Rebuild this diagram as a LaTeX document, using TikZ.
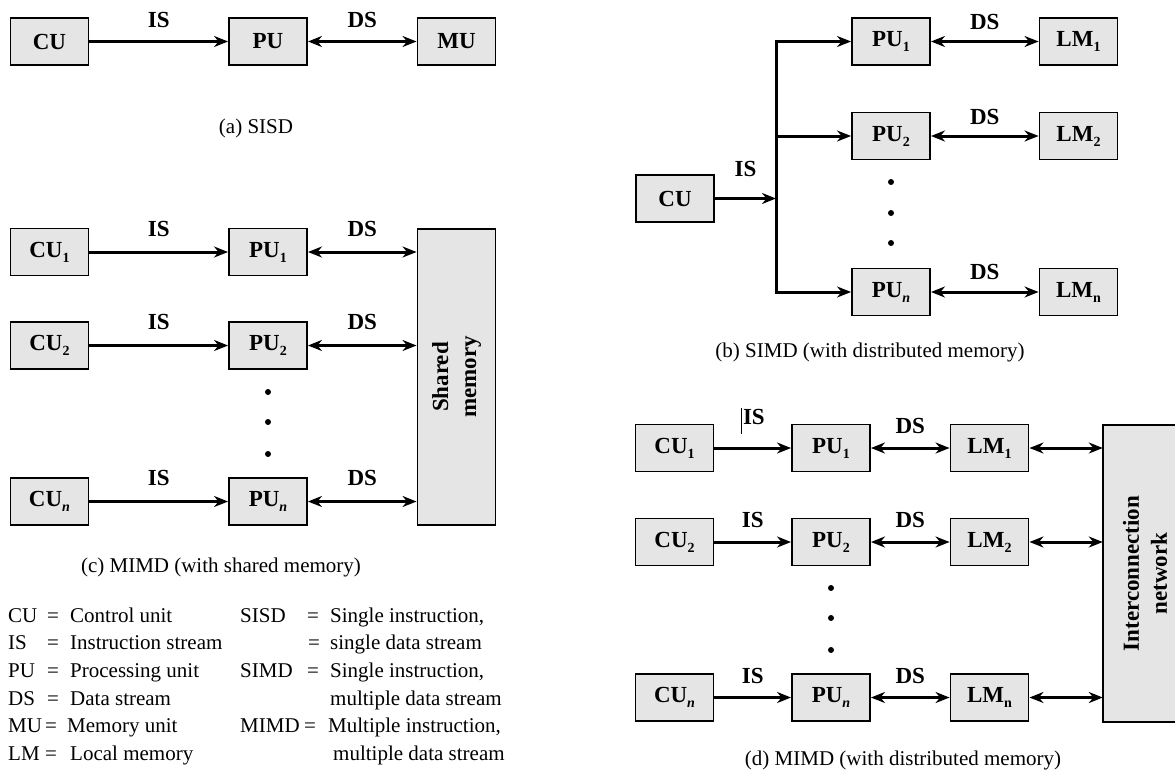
\documentclass[tikz,border=0pt]{standalone}
\usepackage{fontspec}
\setmainfont{Liberation Serif}
\usetikzlibrary{arrows.meta}
\definecolor{boxgray}{gray}{0.9}
\newcommand\sbs[1]{\raisebox{-0.22em}{\fontsize{14}{14}\selectfont #1}}
\begin{document}
\begin{tikzpicture}[x=1pt,y=-1pt,
  box/.style={draw, line width=1.9pt, fill=boxgray, minimum width=78pt, minimum height=47pt, inner sep=0pt, font=\fontsize{23}{27}\selectfont\bfseries},
  lbl/.style={font=\fontsize{23}{28}\selectfont\bfseries, inner sep=0pt},
  arr/.style={line width=3pt, -{Stealth[length=14pt,width=11pt,inset=4.5pt]}},
  darr/.style={line width=3pt, {Stealth[length=14pt,width=11pt,inset=4.5pt]}-{Stealth[length=14pt,width=11pt,inset=4.5pt]}},
  capt/.style={font=\fontsize{21}{25}\selectfont, inner sep=0pt},
  leg/.style={font=\fontsize{21}{25}\selectfont, inner sep=0pt, anchor=base west},
  dotn/.style={circle, fill, inner sep=0pt, minimum size=6pt}
]
\useasboundingbox[fill=white] (0,0) rectangle (1175,776);

% ---------- (a) SISD ----------
\node[box] (acu) at (49.5,41.5) {CU};
\node[box] (apu) at (268,41.5) {PU};
\node[box] (amu) at (456.5,41.5) {MU};
\draw[arr] (acu) -- node[lbl, above=12pt] (ais) {IS} (apu);
\draw[darr] (apu) -- node[lbl, above=12pt] (ads) {DS} (amu);
\node[capt] (capa) at (256,128) {(a) SISD};

% ---------- (c) MIMD shared memory ----------
\node[box] (ccu1) at (49.5,252) {CU\sbs{1}};
\node[box] (ccu2) at (49.5,345.5) {CU\sbs{2}};
\node[box] (ccun) at (49.5,501.5) {CU\sbs{\textit{n}}};
\node[box] (cpu1) at (268,252) {PU\sbs{1}};
\node[box] (cpu2) at (268,345.5) {PU\sbs{2}};
\node[box] (cpun) at (268,501.5) {PU\sbs{\textit{n}}};
\node[box, minimum height=296pt] (sm) at (456.5,377) {};
\node[lbl, rotate=90, align=center] (smt) at (sm.center) {Shared\\memory};
\draw[arr] (ccu1) -- node[lbl, above=14pt] (cis1) {IS} (cpu1);
\draw[arr] (ccu2) -- node[lbl, above=14pt] (cis2) {IS} (cpu2);
\draw[arr] (ccun) -- node[lbl, above=14pt] (cisn) {IS} (cpun);
\draw[darr] (cpu1) -- node[lbl, above=14pt] (cds1) {DS} (cpu1 -| sm.west);
\draw[darr] (cpu2) -- node[lbl, above=14pt] (cds2) {DS} (cpu2 -| sm.west);
\draw[darr] (cpun) -- node[lbl, above=14pt] (cdsn) {DS} (cpun -| sm.west);
\node[dotn] (cd1) at (268,392) {};
\node[dotn] (cd2) at (268,422) {};
\node[dotn] (cd3) at (268,454) {};
\node[capt] (capc) at (221,567) {(c) MIMD (with shared memory)};

% ---------- legend ----------
\node[leg] (n1) at (8,622) {CU};   \node[leg] (e1) at (47,622) {=}; \node[leg] (t1) at (70,622) {Control unit};
\node[leg] (n2) at (8,649) {IS};   \node[leg] (e2) at (47,649) {=}; \node[leg] (t2) at (70,649) {Instruction stream};
\node[leg] (n3) at (8,677) {PU};   \node[leg] (e3) at (47,677) {=}; \node[leg] (t3) at (70,677) {Processing unit};
\node[leg] (n4) at (8,705) {DS};   \node[leg] (e4) at (47,705) {=}; \node[leg] (t4) at (70,705) {Data stream};
\node[leg] (n5) at (8,732) {MU};   \node[leg] (e5) at (45,732) {=}; \node[leg] (t5) at (67,732) {Memory unit};
\node[leg] (n6) at (8,760) {LM};   \node[leg] (e6) at (45,760) {=}; \node[leg] (t6) at (70,760) {Local memory};
\node[leg] (m1) at (240,622) {SISD}; \node[leg] (f1) at (307,622) {=}; \node[leg] (u1) at (330,622) {Single instruction,};
                                     \node[leg] (f2) at (308,649) {=}; \node[leg] (u2) at (330,649) {single data stream};
\node[leg] (m3) at (240,677) {SIMD}; \node[leg] (f3) at (307,677) {=}; \node[leg] (u3) at (330,677) {Single instruction,};
                                                                         \node[leg] (u4) at (330,705) {multiple data stream};
\node[leg] (m5) at (240,732) {MIMD}; \node[leg] (f5) at (304,732) {=}; \node[leg] (u5) at (328,732) {Multiple instruction,};
                                                                         \node[leg] (u6) at (333,760) {multiple data stream};

% ---------- (b) SIMD ----------
\node[box] (bcu) at (675,198.5) {CU};
\node[box] (bpu1) at (891,41.5) {PU\sbs{1}};
\node[box] (bpu2) at (891,136) {PU\sbs{2}};
\node[box] (bpun) at (891,292) {PU\sbs{\textit{n}}};
\node[box] (blm1) at (1078.5,41.5) {LM\sbs{1}};
\node[box] (blm2) at (1078.5,136) {LM\sbs{2}};
\node[box] (blmn) at (1078.5,292) {LM\sbs{n}};
\coordinate (bt) at (776,41.5);
\coordinate (bb) at (776,292);
\draw[arr] (bcu) -- node[lbl, above=20pt] (bis) {IS} (bcu -| bt);
\draw[darr, line join=miter] (bpu1.west) -- (bt) -- (bb) -- (bpun.west);
\draw[arr] (bpu2 -| bt) -- (bpu2.west);
\draw[darr] (bpu1) -- node[lbl, above=10pt] (bds1) {DS} (blm1);
\draw[darr] (bpu2) -- node[lbl, above=10pt] (bds2) {DS} (blm2);
\draw[darr] (bpun) -- node[lbl, above=11pt] (bdsn) {DS} (blmn);
\node[dotn] (bd1) at (891,182) {};
\node[dotn] (bd2) at (891,213) {};
\node[dotn] (bd3) at (891,243) {};
\node[capt] (capb) at (870,352) {(b) SIMD (with distributed memory)};

% ---------- (d) MIMD distributed memory ----------
\node[box] (dcu1) at (674.5,448) {CU\sbs{1}};
\node[box] (dcu2) at (674.5,542) {CU\sbs{2}};
\node[box] (dcun) at (674.5,697.5) {CU\sbs{\textit{n}}};
\node[box] (dpu1) at (831,448) {PU\sbs{1}};
\node[box] (dpu2) at (831,542) {PU\sbs{2}};
\node[box] (dpun) at (831,697.5) {PU\sbs{\textit{n}}};
\node[box] (dlm1) at (989.5,448) {LM\sbs{1}};
\node[box] (dlm2) at (989.5,542) {LM\sbs{2}};
\node[box] (dlmn) at (989.5,697.5) {LM\sbs{n}};
\node[draw=none, fill=boxgray, minimum width=72pt, minimum height=297pt, inner sep=0pt] (net) at (1139,573.5) {};
\draw[line width=1.9pt] (net.north east) -- (net.north west) -- (net.south west) -- (net.south east);
\node[lbl, rotate=90, align=center] (nett) at (1145,573.5) {Interconnection\\network};
\draw[arr] (dcu1) -- node[lbl, above=13pt] (dis1) {\rule[-9pt]{1.3pt}{26pt}\hspace{1pt}IS} (dpu1);
\draw[arr] (dcu2) -- node[lbl, above=13pt] (dis2) {IS} (dpu2);
\draw[arr] (dcun) -- node[lbl, above=12pt] (disn) {IS} (dpun);
\draw[darr] (dpu1) -- node[lbl, above=13pt] (dds1) {DS} (dlm1);
\draw[darr] (dpu2) -- node[lbl, above=13pt] (dds2) {DS} (dlm2);
\draw[darr] (dpun) -- node[lbl, above=12pt] (ddsn) {DS} (dlmn);
\draw[darr] (dlm1) -- (dlm1 -| net.west);
\draw[darr] (dlm2) -- (dlm2 -| net.west);
\draw[darr] (dlmn) -- (dlmn -| net.west);
\node[dotn] (dd1) at (831,588) {};
\node[dotn] (dd2) at (831,618) {};
\node[dotn] (dd3) at (831,650) {};
\node[capt] (capd) at (903,760) {(d) MIMD (with distributed memory)};
\end{tikzpicture}
\end{document}
